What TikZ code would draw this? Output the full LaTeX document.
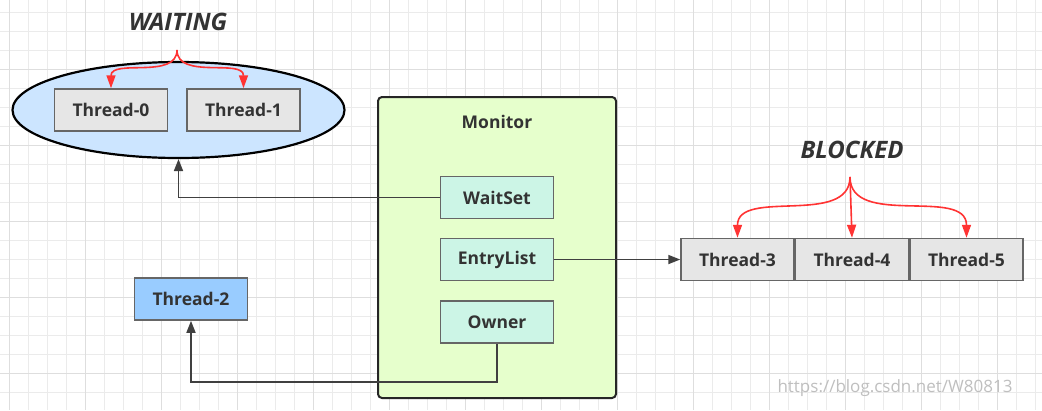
\documentclass[tikz,border=0pt]{standalone}
\usepackage{fontspec}
\setmainfont{Open Sans}
\usetikzlibrary{arrows.meta,positioning,shapes.geometric}

\definecolor{gridline}{HTML}{EBEBEB}
\definecolor{gridmajor}{HTML}{DEDEDE}
\definecolor{poolblue}{HTML}{CCE5FF}
\definecolor{threadgray}{HTML}{E6E6E6}
\definecolor{ownerblue}{HTML}{99CCFF}
\definecolor{monitorgreen}{HTML}{E6FFCC}
\definecolor{slotteal}{HTML}{CCF5E6}
\definecolor{textdark}{HTML}{333333}
\definecolor{forkred}{HTML}{FF3333}

\tikzset{
    thread/.style={draw=black!60, line width=1.5pt, fill=threadgray, text=textdark,
        minimum width=113pt, minimum height=42pt, inner sep=0pt,
        font=\bfseries\fontsize{17.5}{20}\selectfont},
    slot/.style={thread, fill=slotteal},
    state/.style={text=textdark, font=\bfseries\itshape\fontsize{24}{28}\selectfont},
    conn/.style={draw=black!75, line width=1.7pt, -{Triangle[length=12pt,width=9pt]}},
    fork/.style={draw=forkred, line width=1.6pt, -{Triangle[length=13pt,width=9pt]}},
}

\begin{document}
\begin{tikzpicture}[x=1pt, y=-1pt]
        \useasboundingbox (0,0) rectangle (1042,410);
        \fill[white] (0,0) rectangle (1042,410);
        % background grid
        \foreach \gx in {0,...,54}
            \draw[gridline, line width=1pt] (9.5+19*\gx,0) -- (9.5+19*\gx,410);
        \foreach \gy in {0,...,21}
            \draw[gridline, line width=1pt] (0,12.5+19*\gy) -- (1042,12.5+19*\gy);
        \foreach \gx in {0,...,13}
            \draw[gridmajor, line width=1pt] (9.5+76*\gx,0) -- (9.5+76*\gx,410);
        \foreach \gy in {0,...,4}
            \draw[gridmajor, line width=1pt] (0,69.5+76*\gy) -- (1042,69.5+76*\gy);

        % waiting pool
        \node[ellipse, draw=black, line width=2.2pt, fill=poolblue,
              minimum width=332pt, minimum height=96pt] (waitpool) at (178.5,110) {};
        \node[state] (waiting) at (178,22) {WAITING};
        \node[thread] (t0) at (111,110) {Thread-0};
        \node[thread] (t1) at (243.5,110) {Thread-1};
        \coordinate (waitfork) at (177,50);
        \draw[fork] (waitfork) to[out=-90, in=90] (t0.north);
        \draw[fork] (waitfork) to[out=-90, in=90] (t1.north);

        % monitor
        \node[draw=black!85, line width=2pt, fill=monitorgreen, rounded corners=4pt,
              minimum width=238pt, minimum height=301pt] (monitor) at (497,247.5) {};
        \node[text=textdark, font=\bfseries\fontsize{17.5}{20}\selectfont] (monitortitle) at (497,122) {Monitor};
        \node[slot] (waitset) at (497,197.5) {WaitSet};
        \node[slot] (entrylist) at (497,259.5) {EntryList};
        \node[slot] (owner) at (497,322) {Owner};

        % blocked threads
        \node[state] (blocked) at (852,150) {BLOCKED};
        \node[thread] (t3) at (737.5,259.5) {Thread-3};
        \node[thread, right=0pt of t3] (t4) {Thread-4};
        \node[thread, right=0pt of t4] (t5) {Thread-5};
        \coordinate (blockfork) at (850,177);
        \draw[fork] (blockfork) to[out=-90, in=90] (t3.north);
        \draw[fork] (blockfork) -- (t4.north);
        \draw[fork] (blockfork) to[out=-90, in=90] (t5.north);

        % owner thread
        \node[thread, fill=ownerblue] (t2) at (191,299) {Thread-2};

        \draw[conn] (waitset.west) -| (waitpool.south);
        \draw[conn] (entrylist.east) -- (t3.west);
        \coordinate (ownerturn) at (497,382);
        \draw[conn] (owner.south) -- (ownerturn) -| (t2.south);

        \node[text=black!25, font=\fontsize{17}{20}\selectfont] (mark) at (895,388) {https://blog.csdn.net/W80813};
    \end{tikzpicture}
\end{document}
